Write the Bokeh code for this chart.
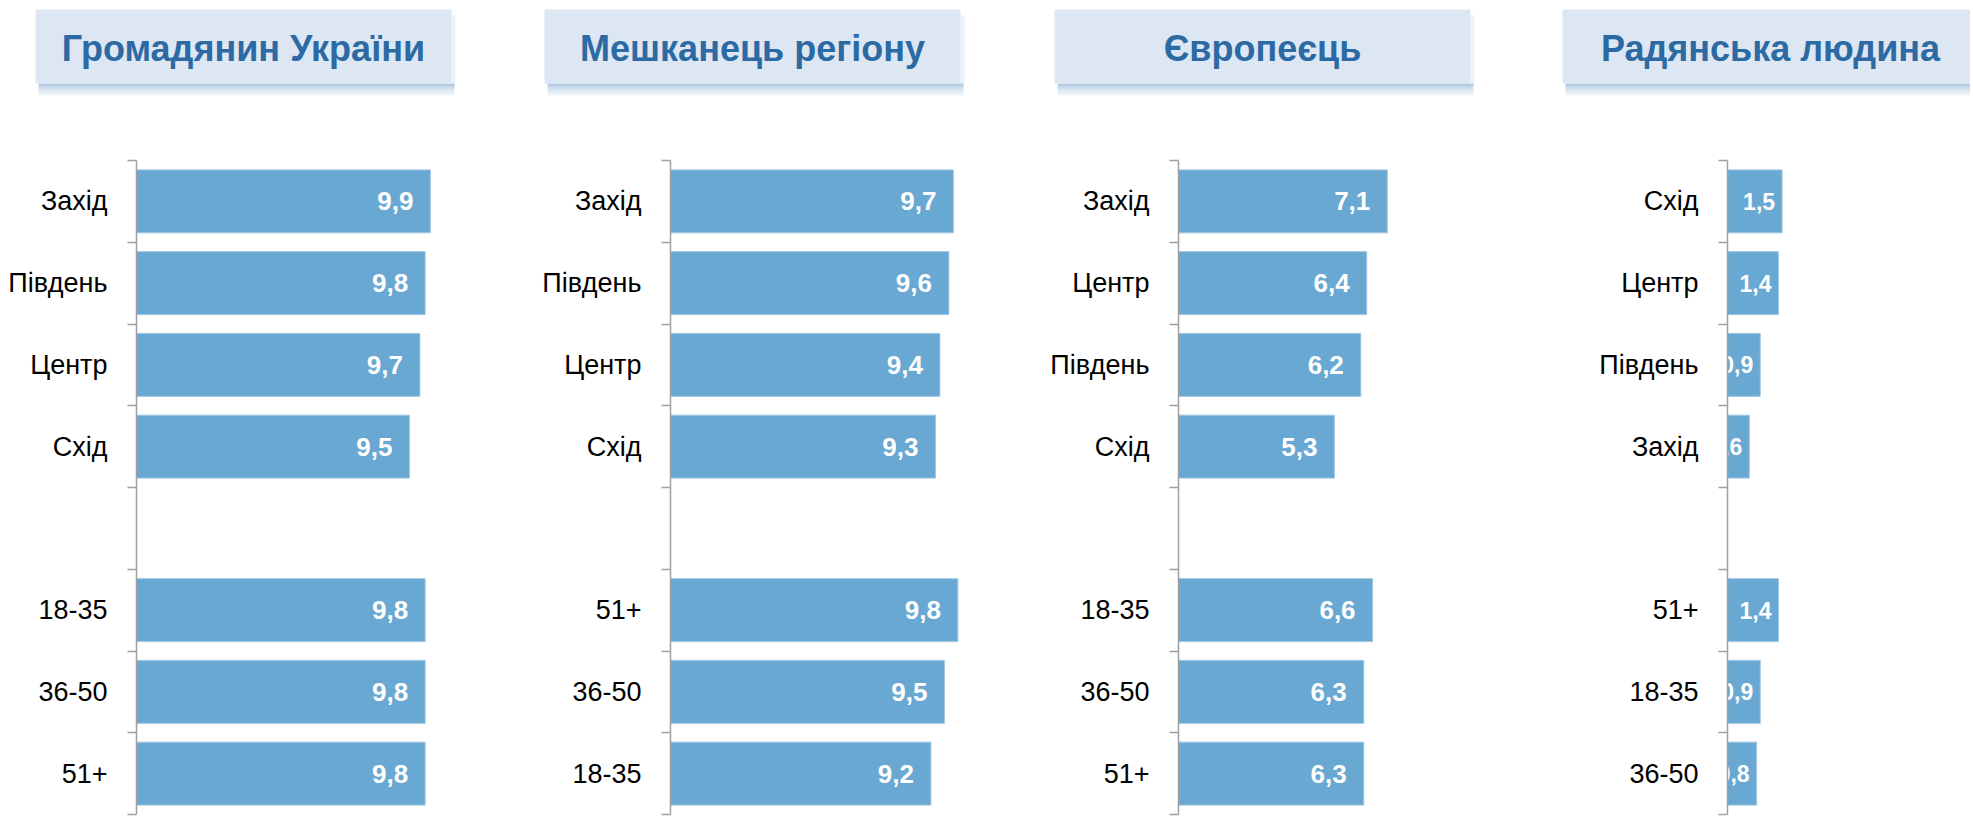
from bokeh.plotting import figure
from bokeh.layouts import column, row
from bokeh.models import Range1d, FixedTicker, ColumnDataSource
from bokeh.core.properties import value
from bokeh.embed import file_html
from bokeh.resources import INLINE

# ---------------- data ----------------
titles = ["Громадянин України", "Мешканець регіону", "Європеєць", "Радянська людина"]

p1_regions = ["Захід", "Південь", "Центр", "Схід"]
p1_region_vals = [9.9, 9.8, 9.7, 9.5]
p1_ages = ["18-35", "36-50", "51+"]
p1_age_vals = [9.8, 9.8, 9.8]

p2_regions = ["Захід", "Південь", "Центр", "Схід"]
p2_region_vals = [9.7, 9.6, 9.4, 9.3]
p2_ages = ["51+", "36-50", "18-35"]
p2_age_vals = [9.8, 9.5, 9.2]

p3_regions = ["Захід", "Центр", "Південь", "Схід"]
p3_region_vals = [7.1, 6.4, 6.2, 5.3]
p3_ages = ["18-35", "36-50", "51+"]
p3_age_vals = [6.6, 6.3, 6.3]

p4_regions = ["Схід", "Центр", "Південь", "Захід"]
p4_region_vals = [1.5, 1.4, 0.9, 0.6]
p4_ages = ["51+", "18-35", "36-50"]
p4_age_vals = [1.4, 0.9, 0.8]

# ---------------- style / layout ----------------
FONT = "'Liberation Sans Narrow', 'Arial Narrow', 'Liberation Sans', sans-serif"
BAR = "#69A8D2"
AXIS_GREY = "#A0A0A0"
TITLE_BG = "#DDE6F3"
TITLE_FG = "#2C6AA4"

TOTAL_W = 1970
TITLE_H = 150
CHART_H = 666

panels = [
    dict(regions=p1_regions, rv=p1_region_vals, ages=p1_ages, av=p1_age_vals,
         width=490, border=136, xr=(4.28, 11.05), off=-17, vsize="26px"),
    dict(regions=p2_regions, rv=p2_region_vals, ages=p2_ages, av=p2_age_vals,
         width=510, border=180, xr=(3.4, 10.75), off=-17, vsize="26px"),
    dict(regions=p3_regions, rv=p3_region_vals, ages=p3_ages, av=p3_age_vals,
         width=510, border=178, xr=(0, 11.29), off=-17, vsize="26px"),
    dict(regions=p4_regions, rv=p4_region_vals, ages=p4_ages, av=p4_age_vals,
         width=460, border=217, xr=(0, 6.68), off=-7, vsize="23px"),
]

# title boxes (pixel positions in the title strip)
box_left = [35, 544, 1054, 1562]
box_w = 416
box_top, box_bottom = 9, 83
title_mid = 48


def make_panel(cfg):
    labels = cfg["regions"] + [""] + cfg["ages"]
    vals = cfg["rv"] + [None] + cfg["av"]
    n = len(labels)
    centers = [n - i - 0.5 for i in range(n)]
    bounds = [float(i) for i in range(n + 1)]

    ys = [c for c, v in zip(centers, vals) if v is not None]
    vs = [v for v in vals if v is not None]
    txt = [f"{v:.1f}".replace(".", ",") for v in vs]
    src = ColumnDataSource(dict(y=ys, v=vs, t=txt))

    p = figure(width=cfg["width"], height=CHART_H, x_range=Range1d(*cfg["xr"]),
               y_range=Range1d(0, n), toolbar_location=None, output_backend="svg",
               min_border_left=cfg["border"], min_border_right=0,
               min_border_top=10, min_border_bottom=2)
    p.outline_line_color = None
    p.xgrid.visible = False
    p.ygrid.visible = False
    p.xaxis.visible = False

    p.hbar(y="y", left=0, right="v", height=0.77, fill_color=BAR,
           line_color="#9FC6E3", line_width=1, source=src)
    p.text(x="v", y="y", text="t", x_offset=cfg["off"], text_align="right",
           text_baseline="middle", text_color="white", text_font=value(FONT),
           text_font_style="bold", text_font_size=cfg["vsize"], source=src)

    ax = p.yaxis[0]
    ax.ticker = FixedTicker(ticks=centers, minor_ticks=bounds)
    ax.major_label_overrides = {c: l for c, l in zip(centers, labels)}
    ax.major_tick_out = 0
    ax.major_tick_in = 0
    ax.minor_tick_out = 9
    ax.minor_tick_in = 0
    ax.minor_tick_line_color = AXIS_GREY
    ax.minor_tick_line_width = 1.5
    ax.axis_line_color = AXIS_GREY
    ax.axis_line_width = 1.5
    ax.major_label_standoff = 20
    ax.major_label_text_font = FONT
    ax.major_label_text_font_size = "27px"
    ax.major_label_text_color = "black"
    return p


charts = [make_panel(c) for c in panels]

# title strip
t = figure(width=TOTAL_W, height=TITLE_H, x_range=Range1d(0, TOTAL_W),
           y_range=Range1d(TITLE_H, 0), toolbar_location=None, output_backend="svg",
           min_border=0)
t.axis.visible = False
t.grid.visible = False
t.outline_line_color = None

lefts = box_left
rights = [l + box_w for l in box_left]
# soft shadow below boxes
for d, a in [(0, 0.6), (3, 0.4), (6, 0.25), (9, 0.12)]:
    t.quad(left=[l + 3 for l in lefts], right=[r + 3 for r in rights],
           top=[box_bottom + d] * 4, bottom=[box_bottom + d + 3] * 4,
           fill_color="#7FA6D0", fill_alpha=a, line_color=None)
t.quad(left=[r for r in rights], right=[r + 4 for r in rights],
       top=[box_top + 6] * 4, bottom=[box_bottom] * 4,
       fill_color="#7FA6D0", fill_alpha=0.15, line_color=None)
t.quad(left=lefts, right=rights, top=[box_top] * 4, bottom=[box_bottom] * 4,
       fill_color=TITLE_BG, line_color=None)
t.text(x=[l + box_w / 2 for l in lefts], y=[title_mid] * 4,
       text=titles, text_align="center", text_baseline="middle",
       text_color=TITLE_FG, text_font=value(FONT), text_font_style="bold",
       text_font_size="36px")

layout = column(t, row(*charts, spacing=0), spacing=0)

open("out.html", "w").write(file_html(layout, INLINE))
